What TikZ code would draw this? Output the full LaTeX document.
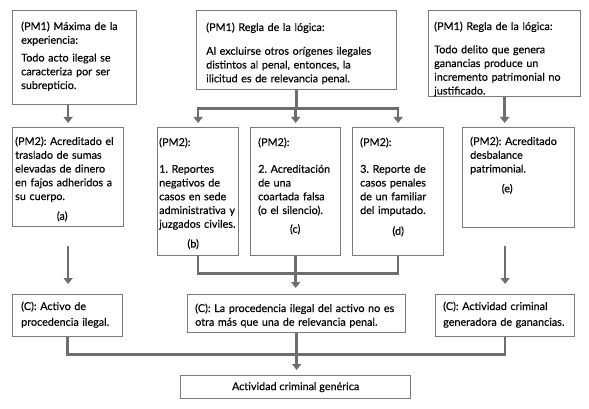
\documentclass[tikz,border=0pt]{standalone}
\usepackage{fontspec}
\setmainfont{Lato}[FakeBold=0.25]
\usepackage{tikz}
\usetikzlibrary{calc,arrows.meta}
\definecolor{frame}{HTML}{7A7A7A}
\definecolor{linkgray}{HTML}{6E6E6E}
\frenchspacing
\tikzset{
  box/.style={draw=frame, line width=1.3pt, anchor=north west, inner sep=0pt},
  wire/.style={draw=linkgray, line width=2.6pt},
  arr/.style={wire, -{Triangle[width=9pt,length=6pt]}},
  txt/.style={anchor=base west, inner sep=0pt, align=left, font=\fontsize{10.8}{13.75}\selectfont},
}

\begin{document}
\begin{tikzpicture}[x=1pt,y=-1pt]
  \useasboundingbox (0,0) rectangle (589,409);
  % frames
  \node[box, minimum width=124pt, minimum height=94pt] (a1) at (12,10) {};
  \node[box, minimum width=200pt, minimum height=79pt] (b1) at (196,10) {};
  \node[box, minimum width=152pt, minimum height=86pt] (c1) at (428,10) {};
  \node[box, minimum width=111pt, minimum height=99pt] (a2) at (12,127) {};
  \node[box, minimum width=81pt, minimum height=128pt] (b2a) at (157,127) {};
  \node[box, minimum width=90pt, minimum height=128pt] (b2b) at (250,127) {};
  \node[box, minimum width=91pt, minimum height=128pt] (b2c) at (352,127) {};
  \node[box, minimum width=112pt, minimum height=100pt] (c2) at (462,127) {};
  \node[box, minimum width=110pt, minimum height=42pt] (a3) at (12,294) {};
  \node[box, minimum width=218pt, minimum height=38pt] (b3) at (187,294) {};
  \node[box, minimum width=139pt, minimum height=42pt] (c3) at (435,294) {};
  \node[box, minimum width=230pt, minimum height=23pt, font=\fontsize{10.8}{12}\selectfont] (d) at (180,375) {Actividad criminal genérica};

  % texts
  \node[txt, text width=118pt] (a1t) at (21,30) {(PM1) Máxima de la\\ experiencia:\\[4pt] Todo acto ilegal se\\ caracteriza por ser\\ subrepticio.};
  \node[txt, text width=188pt] (b1t) at (206,31) {(PM1) Regla de la lógica:\\[10pt] Al excluirse otros orígenes ilegales\\ distintos al penal, entonces, la\\ ilicitud es de relevancia penal.};
  \node[txt, text width=144pt] (c1t) at (434,30) {(PM1) Regla de la lógica:\\[9.5pt] Todo delito que genera\\ ganancias produce un\\ incremento patrimonial no\\ justificado.};
  \node[txt, text width=108pt] (a2t) at (15,145) {(PM2): Acreditado el\\ traslado de sumas\\ elevadas de dinero\\ en fajos adheridos a\\ su cuerpo.\\[6pt] \makebox[94pt]{(a)}};
  \node[txt, text width=79pt] (b2at) at (159,146) {(PM2):\\[13pt] 1. Reportes\\ negativos de\\ casos en sede\\ administrativa y\\ juzgados civiles.\\[6pt] \makebox[68pt]{(b)}};
  \node[txt, text width=80pt] (b2bt) at (258,146) {(PM2):\\[13pt] 2. Acreditación\\ de una\\ coartada falsa\\ (o el silencio).\\[5pt] \makebox[74pt]{(c)}};
  \node[txt, text width=80pt] (b2ct) at (360,146) {(PM2):\\[13pt] 3. Reporte de\\ casos penales\\ de un familiar\\ del imputado.\\[7pt] \makebox[76pt]{(d)}};
  \node[txt, text width=102pt] (c2t) at (470,145) {(PM2): Acreditado\\ desbalance\\ patrimonial.\\[6pt] \makebox[74pt]{(e)}};
  \node[txt, text width=100pt] (a3t) at (21,310) {(C): Activo de\\[2pt] procedencia ilegal.};
  \node[txt, text width=212pt] (b3t) at (195,312) {(C): La procedencia ilegal del activo no es\\ otra más que una de relevancia penal.};
  \node[txt, text width=130pt] (c3t) at (443,310) {(C): Actividad criminal\\[2pt] generadora de ganancias.};

  % links
  \coordinate (top) at ($(b1.south)+(0,18)$);
  \coordinate (mid) at ($(b2b.south)+(0,17)$);
  \coordinate (low) at ($(b3.south)+(0,21)$);
  \draw[arr, shorten >=4pt] (a1.south -| a2.north) -- (a2.north);
  \draw[arr, shorten <=19pt, shorten >=10pt] (a2.south) -- (a3.north -| a2.south);
  \draw[wire] (b1.south) -- (top);
  \draw[arr, shorten >=4pt] (top) -| (b2a.north);
  \draw[arr, shorten >=4pt] (top) -| (b2b.north);
  \draw[arr, shorten >=4pt] (top) -| (b2c.north);
  \draw[wire] (b2a.south) |- (mid) -| (b2c.south);
  \draw[wire] (b2b.south) -- (mid);
  \draw[arr, shorten >=6pt] (mid) -- (b3.north -| mid);
  \draw[arr, shorten >=4pt] (c1.south) -- (c2.north -| c1.south);
  \draw[arr, shorten <=18pt, shorten >=10pt] (c2.south -| c3.north) -- (c3.north);
  \draw[wire] (a3.south) |- (low) -| (c3.south);
  \draw[wire] (b3.south) -- (low);
  \draw[arr, shorten >=5pt] (low) -- (d.north -| low);
\end{tikzpicture}
\end{document}
